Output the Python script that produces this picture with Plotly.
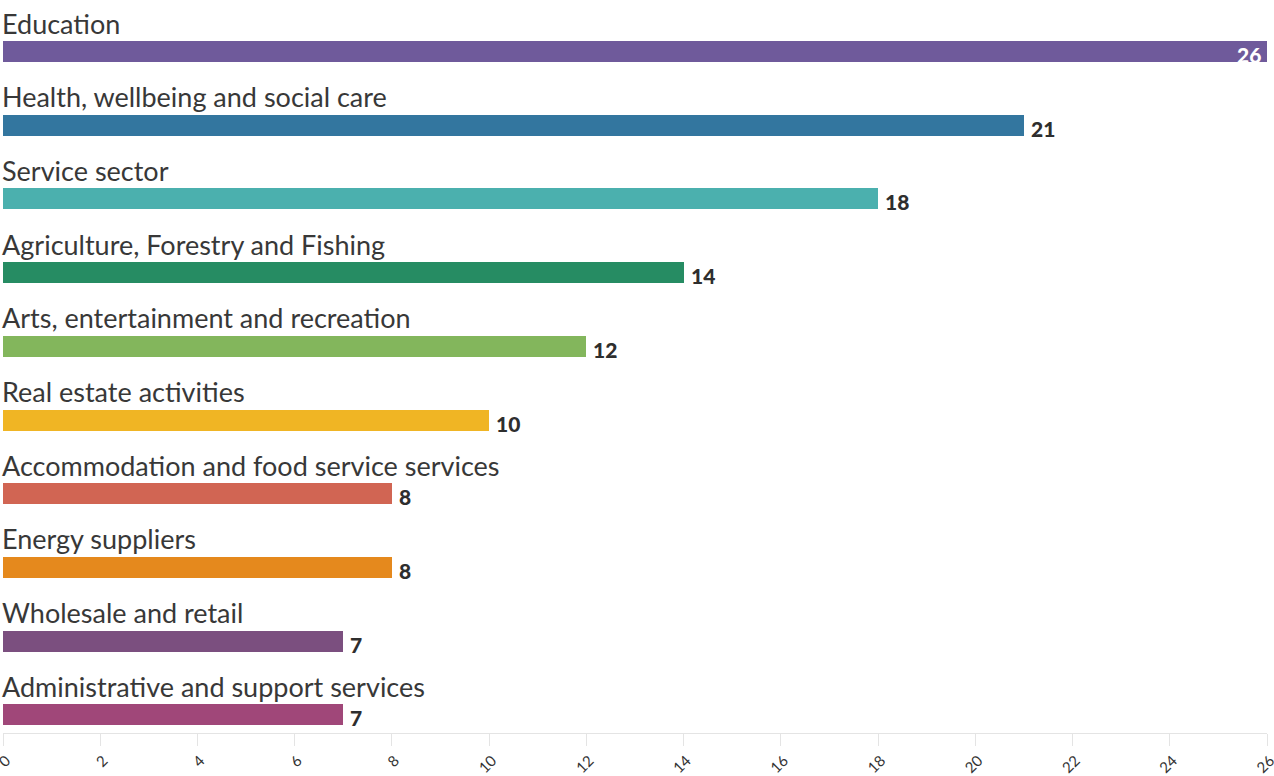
import plotly.graph_objects as go

categories = [
    "Education",
    "Health, wellbeing and social care",
    "Service sector",
    "Agriculture, Forestry and Fishing",
    "Arts, entertainment and recreation",
    "Real estate activities",
    "Accommodation and food service services",
    "Energy suppliers",
    "Wholesale and retail",
    "Administrative and support services",
]
values = [26, 21, 18, 14, 12, 10, 8, 8, 7, 7]
colors = ["#6f5a9b", "#33769f", "#4bb0ae", "#268c63", "#83b65c",
          "#f0b524", "#d16553", "#e5891d", "#7b4f7f", "#a04779"]
tick_vals = list(range(0, 27, 2))

FONT = "Lato"
positions = list(range(len(categories)))

fig = go.Figure()
fig.add_trace(go.Bar(
    x=values, y=positions, orientation="h",
    marker=dict(color=colors, line=dict(width=0)),
    width=0.285, hoverinfo="skip",
))

annotations = []
for i, (c, v) in enumerate(zip(categories, values)):
    annotations.append(dict(
        x=0, y=i, xref="x", yref="y", text=c, showarrow=False,
        xanchor="left", yanchor="bottom", yshift=10, xshift=-3,
        font=dict(family=FONT, size=27, color="#383838"),
    ))
    inside = v >= max(tick_vals)
    annotations.append(dict(
        x=v, y=i, xref="x", yref="y", text=str(v), showarrow=False,
        xanchor="right" if inside else "left", yanchor="middle",
        xshift=-4 if inside else 5, yshift=-3,
        font=dict(family=FONT, size=21, weight=900,
                  color="#ffffff" if inside else "#2e2e2e"),
    ))

fig.update_layout(
    width=1274, height=776,
    margin=dict(l=3, r=7, t=0, b=43, autoexpand=False),
    paper_bgcolor="white", plot_bgcolor="white",
    showlegend=False,
    annotations=annotations,
    bargap=0,
)
fig.update_xaxes(
    range=[0, 26], tickvals=tick_vals, ticktext=[str(t) for t in tick_vals],
    tickangle=-45, ticks="outside", ticklen=12, tickcolor="#e4e4e4",
    showline=True, linecolor="#e4e4e4", linewidth=1,
    showgrid=False, zeroline=False, automargin=False,
    ticklabeloverflow="allow", ticklabelshift=3, ticklabelstandoff=0,
    tickfont=dict(family=FONT, size=15, color="#333333"),
    fixedrange=True,
)
fig.update_yaxes(
    range=[9.247, -0.699], showticklabels=False, showgrid=False,
    zeroline=False, showline=False, ticks="", fixedrange=True,
    automargin=False,
)

fig.write_html("out.html")
